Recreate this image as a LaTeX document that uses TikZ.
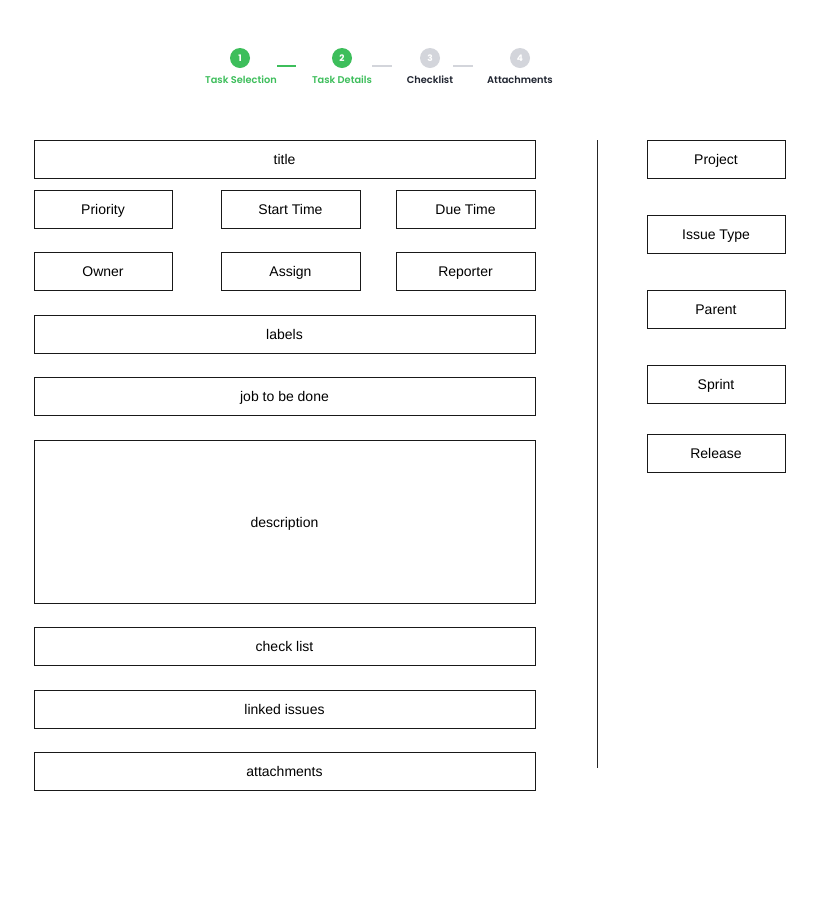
\documentclass[tikz,border=0pt]{standalone}
\usepackage{fontspec}
\setmainfont{Liberation Sans}
\newfontfamily\stepfont{Poppins}[UprightFont=* SemiBold]
\newfontfamily\stepnumfont{Poppins}[UprightFont=* Bold]
\definecolor{stepgreen}{HTML}{3DBE5B}
\definecolor{stepgray}{HTML}{D3D5DB}
\definecolor{stepdark}{HTML}{1F2430}
\tikzset{
  fieldbox/.style={draw=black!90, line width=1pt, fill=white, inner sep=0pt, text height=11.5pt, text depth=0pt, font=\fontsize{14}{16}\selectfont},
  stepdot/.style={circle, minimum size=20pt, inner sep=0pt, text=white, font=\stepnumfont\fontsize{9}{10}\selectfont},
  steplabel/.style={font=\stepfont\fontsize{9.8}{11}\selectfont, inner sep=0pt}
}
\newcommand{\fld}[6]{\node[fieldbox, minimum width=#4-#2, minimum height=#5-#3] (#1) at ({(#2+#4)/2},{(#3+#5)/2}) {#6};}
\begin{document}
\begin{tikzpicture}[x=1pt,y=-1pt]
\useasboundingbox (0,0) rectangle (819,914);
\fill[white] (0,0) rectangle (819,914);
% stepper
\node[stepdot, fill=stepgreen] (s1) at (240,58) {1};
\node[stepdot, fill=stepgreen] (s2) at (342,58) {2};
\node[stepdot, fill=stepgray] (s3) at (430,58) {3};
\node[stepdot, fill=stepgray] (s4) at (520,58) {4};
\node[steplabel, text=stepgreen] (l1) at (241,79.5) {Task Selection};
\node[steplabel, text=stepgreen] (l2) at (342,79.5) {Task Details};
\node[steplabel, text=stepdark] (l3) at (430,79.5) {Checklist};
\node[steplabel, text=stepdark] (l4) at (520,79.5) {Attachments};
\coordinate (c1a) at (277,66); \coordinate (c1b) at (296,66);
\coordinate (c2a) at (372,66); \coordinate (c2b) at (392,66);
\coordinate (c3a) at (453,66); \coordinate (c3b) at (473,66);
\draw[stepgreen, line width=1.2pt] (c1a) -- (c1b);
\draw[stepgray, line width=1.2pt] (c2a) -- (c2b);
\draw[stepgray, line width=1.2pt] (c3a) -- (c3b);
% left column
\fld{title}{34}{140}{535}{178}{title}
\fld{priority}{34}{190}{172}{228}{Priority}
\fld{start}{221}{190}{360}{228}{Start Time}
\fld{due}{396}{190}{535}{228}{Due Time}
\fld{owner}{34}{252}{172}{290}{Owner}
\fld{assign}{221}{252}{360}{290}{Assign}
\fld{reporter}{396}{252}{535}{290}{Reporter}
\fld{labels}{34}{315}{535}{353}{labels}
\fld{job}{34}{377}{535}{415}{job to be done}
\fld{desc}{34}{440}{535}{603}{description}
\fld{check}{34}{627}{535}{665}{check list}
\fld{linked}{34}{690}{535}{728}{linked issues}
\fld{attach}{34}{752}{535}{790}{attachments}
% divider
\coordinate (v1) at (597,140); \coordinate (v2) at (597,768);
\draw[line width=1pt, black!85] (v1) -- (v2);
% right column
\fld{project}{647}{140}{785}{178}{Project}
\fld{issue}{647}{215}{785}{253}{Issue Type}
\fld{parent}{647}{290}{785}{328}{Parent}
\fld{sprint}{647}{365}{785}{403}{Sprint}
\fld{release}{647}{434}{785}{472}{Release}
\end{tikzpicture}
\end{document}
